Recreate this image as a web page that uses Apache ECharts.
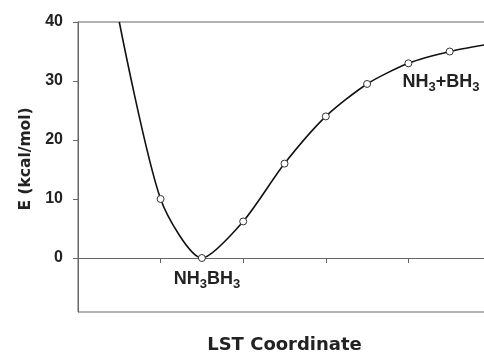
<!DOCTYPE html>
<html>
<head>
<meta charset="utf-8">
<script src="https://cdn.jsdelivr.net/npm/echarts@6/dist/echarts.min.js"></script>
<style>
  html, body {margin: 0; padding: 0; background: #fff;}
  #chart {width: 484px; height: 352px;}
</style>
</head>
<body>
<div id="chart"></div>
<script>
// LST coordinate (tick spacing = 1) and energy in kcal/mol
const lstX = [0.5, 1, 1.5, 2, 2.5, 3, 3.5, 4, 4.5, 5];
const energy = [40, 10, 0, 6.2, 16, 24, 29.5, 33, 35, 36.3];
const shownPoint = [false, true, true, true, true, true, true, true, true, false];
const yTicks = [0, 10, 20, 30, 40];
const xTicks = [0, 1, 2, 3, 4, 5];
// where the dissociated-fragment label sits
const productLabelAt = [3.93, 29.8];

const font = '"Liberation Sans", Arial, sans-serif';
const wideFont = '"DejaVu Sans", sans-serif';
const ink = '#222';
const axisGrey = '#666';

const chart = echarts.init(document.getElementById('chart'));

const formulaRich = {
    a: {fontFamily: font, fontWeight: 'bold', fontSize: 18, color: ink},
    s: {fontFamily: font, fontWeight: 'bold', fontSize: 13, color: ink, padding: [11, 0, 0, 0]}
};

const points = lstX.map((x, i) => {
    const p = {value: [x, energy[i]]};
    if (!shownPoint[i]) p.symbol = 'none';
    return p;
});
// label under the minimum
points[2].label = {
    show: true,
    position: 'bottom',
    distance: 5,
    offset: [5, 0],
    formatter: '{a|NH}{s|3}{a|BH}{s|3}',
    rich: formulaRich
};

chart.setOption({
    animation: false,
    grid: {
        left: 78,
        top: 22,
        right: -7,
        bottom: 40,
        outerBoundsMode: 'none',
        show: true,
        borderColor: axisGrey,
        borderWidth: 1
    },
    xAxis: {
        type: 'value',
        min: 0,
        max: 5,
        interval: 1,
        name: 'LST Coordinate',
        nameLocation: 'middle',
        nameGap: 24,
        nameTextStyle: {fontFamily: wideFont, fontWeight: 'bold', fontSize: 18, color: ink},
        axisLine: {show: true, lineStyle: {color: axisGrey, width: 1}},
        axisTick: {show: true, length: 5, lineStyle: {color: axisGrey}, customValues: xTicks},
        axisLabel: {show: false},
        splitLine: {show: false}
    },
    yAxis: {
        type: 'value',
        min: -9.15,
        max: 40,
        name: 'E (kcal/mol)',
        nameLocation: 'middle',
        nameGap: 42,
        nameTextStyle: {fontFamily: wideFont, fontWeight: 'bold', fontSize: 15.5, color: ink, padding: [0, 0, 0, 16]},
        axisLine: {show: true, lineStyle: {color: axisGrey, width: 1}},
        axisTick: {show: true, length: 5, lineStyle: {color: axisGrey}, customValues: yTicks},
        axisLabel: {
            customValues: yTicks,
            margin: 15,
            fontFamily: font, fontWeight: 'bold', fontSize: 16, color: ink
        },
        splitLine: {show: false}
    },
    series: [{
        type: 'line',
        smooth: 0.25,
        data: points,
        symbol: 'circle',
        symbolSize: 7,
        itemStyle: {color: '#fff', borderColor: '#333', borderWidth: 1},
        lineStyle: {color: '#111', width: 1.6},
        z: 3
    }, {
        type: 'scatter',
        data: [productLabelAt],
        symbolSize: 0,
        silent: true,
        itemStyle: {opacity: 1},
        label: {
            show: true,
            position: 'right',
            distance: 0,
            opacity: 1,
            formatter: '{a|NH}{s|3}{a|+BH}{s|3}',
            rich: formulaRich
        }
    }]
});
</script>
</body>
</html>
